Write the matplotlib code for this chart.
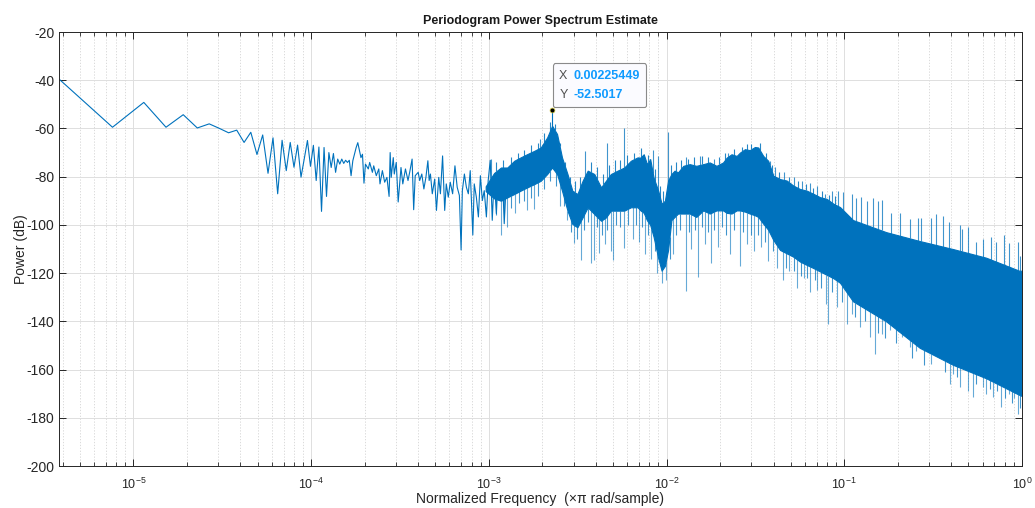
import numpy as np
import matplotlib.pyplot as plt
from matplotlib.ticker import LogLocator, NullLocator, NullFormatter
from matplotlib.offsetbox import TextArea, HPacker, VPacker, AnnotationBbox

plt.rcParams['font.family'] = ['Liberation Sans', 'DejaVu Sans']
plt.rcParams['mathtext.fontset'] = 'custom'
plt.rcParams['mathtext.rm'] = 'Liberation Sans'
plt.rcParams['mathtext.it'] = 'Liberation Sans:italic'
plt.rcParams['axes.unicode_minus'] = False

nfft = 2 ** 19
df = 2 / nfft  # bin spacing in x pi rad/sample

# resolved bins at the low end (bin index, power in dB)
trace_k = [1, 2, 3, 4, 5, 6, 7, 8, 9, 10, 11, 12, 13, 14, 15, 16, 17, 18, 19, 20,
           21, 22, 23, 24, 25, 26, 27, 28, 29, 30, 31, 32, 33, 34, 35, 36, 37, 38, 39, 40,
           41, 42, 43, 44, 45, 47, 48, 50, 51, 52, 53, 55, 56, 58, 59, 61, 63, 64, 66, 68,
           70, 72, 73, 74, 76, 77, 79, 81, 84, 86, 89, 92, 94, 97, 99, 101, 105, 107, 110, 113,
           116, 119, 121, 123, 126, 130, 133, 137, 140, 144, 148, 151, 155, 159, 164, 169, 174, 179, 183, 186,
           191, 196, 201, 206, 213, 217, 223, 229, 235, 241, 247, 254, 260, 267, 274, 281, 289, 296, 304, 312,
           320, 329, 337, 349]
trace_db = [-39.5, -59.5, -49.2, -59.5, -54.3, -59.8, -58.1, -60.0, -61.8, -60.7,
            -65.8, -61.6, -70.8, -62.7, -78.6, -63.9, -87.1, -64.9, -77.5, -65.8,
            -76.1, -66.9, -80.2, -72.5, -65.0, -75.7, -67.0, -81.6, -67.7, -94.4,
            -67.9, -88.2, -70.0, -76.2, -70.4, -78.2, -72.7, -74.8, -72.7, -74.5,
            -73.2, -74.1, -73.2, -79.6, -73.4, -67.9, -65.9, -72.1, -70.7, -82.7,
            -74.8, -76.8, -74.1, -78.2, -75.5, -79.6, -76.8, -83.0, -77.5, -82.3,
            -80.3, -88.2, -70.0, -80.3, -72.1, -78.9, -74.1, -90.5, -76.2, -83.0,
            -76.8, -81.6, -78.2, -72.7, -93.7, -79.6, -78.2, -81.6, -78.9, -85.1,
            -80.3, -73.4, -81.6, -78.9, -87.1, -81.0, -94.0, -80.3, -87.1, -71.4,
            -94.0, -83.0, -88.5, -82.3, -87.1, -75.5, -84.4, -87.8, -110.4, -85.8,
            -78.9, -84.4, -87.1, -77.5, -104.2, -83.0, -88.5, -96.7, -79.6, -89.9,
            -85.8, -96.7, -81.6, -73.2, -98.1, -80.3, -95.3, -78.9, -87.1, -77.5,
            -99.5, -81.6, -78.9, -84.4]

# dense part: upper and lower edge of the solid trace
band_f = [9.6e-4, 1.07e-3, 1.17e-3, 1.27e-3, 1.39e-3, 1.51e-3, 1.65e-3, 1.80e-3, 1.96e-3,
          2.13e-3, 2.27e-3, 2.42e-3, 2.58e-3, 2.77e-3, 2.95e-3, 3.15e-3, 3.37e-3, 3.60e-3, 3.92e-3,
          4.28e-3, 4.56e-3, 4.86e-3, 5.30e-3, 5.78e-3, 6.30e-3, 6.87e-3, 7.13e-3, 7.44e-3, 7.76e-3,
          8.09e-3, 8.45e-3, 8.99e-3, 9.38e-3, 9.79e-3, 0.0102, 0.01065, 0.0111, 0.0116, 0.01243,
          0.0135, 0.0147, 0.0161, 0.0175, 0.0191, 0.0208, 0.0218, 0.0232, 0.0248, 0.0259,
          0.0276, 0.0294, 0.0314, 0.0328, 0.0350, 0.0373, 0.0399, 0.0435, 0.0474, 0.0517,
          0.0563, 0.0615, 0.0670, 0.0730, 0.0796, 0.0868, 0.0946, 0.112, 0.172, 0.266,
          0.408, 0.628, 0.965, 1.0]
band_top = [-84.0, -78.5, -76.2, -76.2, -73.4, -72.0, -70.6, -69.3, -67.9,
            -63.7, -58.9, -62.3, -72.0, -78.9, -85.8, -87.2, -81.7, -77.5, -78.9,
            -84.4, -81.7, -78.9, -77.5, -76.2, -73.4, -72.0, -72.1, -70.7, -74.8,
            -72.7, -80.3, -86.0, -91.2, -90.0, -81.6, -78.9, -77.5, -78.2, -75.5,
            -74.8, -75.5, -74.8, -74.1, -75.5, -74.1, -72.1, -70.7, -71.4, -70.0,
            -68.6, -69.0, -67.7, -67.9, -71.4, -73.4, -79.6, -81.0, -81.6, -83.7,
            -85.1, -85.8, -87.1, -88.5, -89.2, -91.2, -92.6, -98.0, -103.0, -106.7,
            -110.0, -113.6, -119.0, -119.0]
band_bot = [-86.0, -89.0, -90.0, -88.6, -87.2, -85.8, -84.4, -83.1, -81.7,
            -78.9, -76.2, -78.9, -85.8, -94.1, -99.6, -101.0, -96.9, -92.7, -95.5,
            -98.3, -96.9, -94.1, -94.1, -94.1, -92.7, -92.7, -94.0, -95.0, -98.1,
            -100.0, -104.9, -114.0, -119.0, -117.0, -110.4, -98.0, -96.7, -95.3, -95.3,
            -95.3, -96.7, -94.0, -95.3, -94.0, -94.0, -95.0, -95.3, -94.0, -94.0,
            -94.5, -95.3, -96.0, -96.7, -99.5, -102.0, -106.3, -110.4, -111.8, -113.2,
            -115.2, -116.6, -117.9, -119.3, -120.7, -122.1, -124.0, -131.7, -140.0, -151.0,
            -158.0, -163.6, -170.5, -171.0]

# tall single bins sticking out above / below the solid part
up_f = [1.03e-3, 1.94e-3, 3.46e-3, 4.6e-3, 5.75e-3, 8.36e-3, 8.99e-3, 0.0102, 0.0128, 0.0155,
        0.0185, 0.0222, 0.038, 0.041, 0.046, 0.052, 0.058, 0.064, 0.070, 0.078,
        0.085, 0.0925, 0.0986, 0.11, 0.117, 0.125, 0.134, 0.145, 0.155, 0.162,
        0.184, 0.205, 0.233, 0.26, 0.27, 0.309, 0.33, 0.36, 0.39, 0.445,
        0.46, 0.5, 0.55, 0.6, 0.67, 0.714, 0.796, 0.85, 0.946, 0.98]
up_db = [-72.7, -64.5, -69.3, -65.9, -60.0, -69.0, -71.4, -61.3, -72.0, -71.5,
         -72.5, -70.0, -73.4, -76.0, -78.0, -80.0, -82.0, -82.5, -84.0, -87.0,
         -86.0, -85.8, -86.5, -87.0, -89.0, -88.6, -90.0, -89.0, -90.0, -89.7,
         -94.9, -95.0, -97.6, -97.0, -97.0, -97.0, -95.5, -96.5, -99.0, -100.0,
         -101.8, -101.0, -107.0, -106.0, -105.0, -107.0, -104.0, -107.5, -107.0, -113.0]
down_f = [1.17e-3, 1.27e-3, 1.4e-3, 1.65e-3, 1.8e-3, 2.5e-3, 2.77e-3, 3.01e-3, 3.29e-3, 3.74e-3,
          3.9e-3, 4.17e-3, 4.5e-3, 4.84e-3, 5.0e-3, 5.75e-3, 6.5e-3, 7.0e-3, 7.6e-3, 8.2e-3,
          8.85e-3, 9.44e-3, 9.9e-3, 0.0109, 0.0128, 0.0138, 0.0151, 0.0165, 0.0178, 0.0195,
          0.0228, 0.026, 0.0285, 0.031, 0.034, 0.037, 0.042, 0.045, 0.049, 0.054,
          0.059, 0.064, 0.070, 0.079, 0.0813, 0.0905, 0.103, 0.11, 0.122, 0.139,
          0.149, 0.162, 0.18, 0.21, 0.233, 0.254, 0.309, 0.344, 0.391, 0.408,
          0.445, 0.496, 0.53, 0.601, 0.628, 0.684, 0.762, 0.849, 0.9, 0.946]
down_db = [-104.0, -100.8, -95.0, -94.0, -93.3, -92.0, -98.0, -107.7, -114.5, -116.0,
           -114.5, -111.8, -108.0, -111.0, -114.5, -109.6, -106.0, -107.0, -112.0, -114.0,
           -120.0, -124.0, -123.0, -112.0, -127.5, -110.0, -121.6, -108.0, -116.0, -109.0,
           -112.0, -117.0, -108.0, -111.0, -109.0, -115.0, -118.0, -123.0, -119.0, -126.0,
           -122.0, -128.0, -127.0, -133.0, -141.0, -134.0, -141.0, -137.0, -142.4, -146.6,
           -153.5, -145.2, -143.8, -146.6, -150.7, -152.1, -157.6, -154.9, -165.9, -161.8,
           -167.3, -168.7, -171.4, -167.3, -170.0, -171.4, -175.6, -170.0, -172.0, -178.3]

# short ragged bins along the two edges
fringe_up_f = [1.1e-3, 1.2e-3, 1.33e-3, 1.45e-3, 1.58e-3, 1.72e-3, 1.88e-3, 2.05e-3, 2.2e-3, 2.35e-3,
               2.5e-3, 2.68e-3, 2.86e-3, 3.05e-3, 3.25e-3, 3.75e-3, 4.05e-3, 4.4e-3, 4.72e-3, 5.1e-3,
               5.5e-3, 6.0e-3, 6.6e-3, 7.2e-3, 7.9e-3, 8.6e-3, 9.2e-3, 9.6e-3, 0.0106, 0.0113,
               0.012, 0.0132, 0.0142, 0.0158, 0.017, 0.0198, 0.0214, 0.024, 0.0265, 0.0285,
               0.030, 0.0335, 0.0365, 0.039, 0.043, 0.049, 0.055, 0.061, 0.067, 0.075,
               0.082, 0.089]
fringe_up_db = [-74.0, -73.0, -72.0, -70.0, -69.0, -67.0, -66.0, -62.0, -57.5, -58.0,
                -66.0, -74.0, -80.0, -82.0, -80.0, -74.0, -76.0, -79.0, -75.0, -73.0,
                -73.0, -71.0, -70.0, -68.0, -71.0, -77.0, -84.0, -86.0, -75.0, -74.0,
                -73.0, -72.5, -72.0, -71.5, -72.0, -72.0, -70.0, -68.5, -67.5, -66.5,
                -66.5, -66.0, -70.0, -75.0, -78.0, -80.0, -82.0, -83.0, -84.5, -86.0,
                -87.5, -88.0]
fringe_dn_f = [1.1e-3, 1.22e-3, 1.33e-3, 1.48e-3, 1.58e-3, 1.72e-3, 1.9e-3, 2.05e-3, 2.2e-3, 2.38e-3,
               2.65e-3, 2.9e-3, 3.12e-3, 3.45e-3, 3.62e-3, 4.05e-3, 4.35e-3, 4.65e-3, 5.2e-3, 5.5e-3,
               6.1e-3, 6.7e-3, 7.3e-3, 7.9e-3, 8.6e-3, 0.0104, 0.0113, 0.0119, 0.0133, 0.0145,
               0.0158, 0.0172, 0.0185, 0.0205, 0.0215, 0.024, 0.0268, 0.030, 0.0325, 0.036,
               0.0395, 0.047, 0.052, 0.057, 0.062, 0.068, 0.074, 0.085, 0.097, 0.115,
               0.13, 0.155, 0.17, 0.195, 0.24, 0.28, 0.37, 0.43, 0.55, 0.66,
               0.72, 0.8, 0.88, 0.97]
fringe_dn_db = [-96.0, -95.0, -93.0, -91.0, -90.0, -89.0, -88.0, -85.0, -82.0, -84.0,
                -92.0, -103.0, -106.0, -102.0, -99.0, -101.0, -104.0, -102.0, -100.0, -101.0,
                -100.0, -100.0, -101.0, -104.0, -111.0, -114.0, -104.0, -102.0, -103.0, -102.0,
                -101.0, -103.0, -102.0, -101.0, -104.0, -102.0, -103.0, -104.0, -104.0, -107.0,
                -111.0, -118.0, -119.0, -121.0, -122.0, -123.0, -126.0, -128.0, -132.0, -138.0,
                -140.0, -145.0, -147.0, -149.0, -155.0, -158.0, -161.0, -163.0, -166.0, -168.0,
                -169.0, -172.0, -174.0, -176.0]

# data cursor
tip_x = 0.00225449
tip_y = -52.5017

blue = '#0072BD'

fig = plt.figure(figsize=(10.35, 5.08), dpi=100)
ax = fig.add_axes([59 / 1035, 42 / 508, 963 / 1035, 434 / 508])

f_trace = np.array(trace_k) * df
ax.plot(f_trace, trace_db, color=blue, lw=0.8)
ax.fill_between(band_f, band_bot, band_top, color=blue, lw=0.8, edgecolor=blue)

# spikes start at the edge of the solid part
logf = np.log10(band_f)


def edge_spikes(f, db, edge, alpha):
    base = np.interp(np.log10(f), logf, edge)
    ax.vlines(f, base, db, color=blue, lw=0.8, alpha=alpha)


edge_spikes(up_f, up_db, band_top, 0.75)
edge_spikes(down_f, down_db, band_bot, 0.6)
edge_spikes(fringe_up_f, fringe_up_db, band_top, 0.85)
edge_spikes(fringe_dn_f, fringe_dn_db, band_bot, 0.75)
edge_spikes([tip_x], [tip_y], band_top, 1.0)

ax.set_xscale('log')
ax.set_xlim(df, 1)
ax.set_ylim(-200, -20)
ax.set_yticks(np.arange(-200, -19, 20))
ax.yaxis.set_minor_locator(NullLocator())
ax.xaxis.set_minor_locator(LogLocator(base=10, subs=np.arange(2, 10)))
ax.xaxis.set_minor_formatter(NullFormatter())

ax.set_axisbelow(True)
ax.grid(True, which='major', color='#dedede', lw=0.7)
ax.grid(True, which='minor', axis='x', color='#d4d4d4', lw=0.6, ls=(0, (1.5, 2)))

ax.tick_params(which='both', direction='in', top=True, right=True,
               colors='#262626', labelsize=10, labelcolor='#262626')
ax.tick_params(which='major', length=5, width=0.7)
ax.tick_params(which='minor', length=3, width=0.6)
ax.tick_params(axis='x', which='major', pad=8, labelsize=9)
for s in ax.spines.values():
    s.set_color('#262626')
    s.set_linewidth(0.7)

ax.set_title('Periodogram Power Spectrum Estimate', fontsize=9, fontweight='bold',
             color='#1a1a1a', pad=6)
ax.set_xlabel('Normalized Frequency  (\u00d7\u03c0 rad/sample)', fontsize=10,
              color='#262626', labelpad=0)
ax.set_ylabel('Power (dB)', fontsize=10, color='#262626', labelpad=-1)

# data tip box
ax.plot([tip_x], [tip_y], 'o', ms=3.5, mfc='black', mec='#d8d040', mew=0.5, zorder=5)
rows = []
for name, val in (('X', f'{tip_x:.6g}'), ('Y', f'{tip_y:.6g}')):
    rows.append(HPacker(children=[TextArea(name, textprops=dict(color='#505050', size=9)),
                                  TextArea(val, textprops=dict(color='#0f9bff', size=9,
                                                               fontweight='bold'))],
                        align='baseline', pad=0, sep=4))
box = VPacker(children=rows, align='left', pad=0, sep=5)
ab = AnnotationBbox(box, (tip_x, tip_y), xybox=(5.5, 7), xycoords='data',
                    boxcoords='offset points', box_alignment=(0, 0), pad=0.45,
                    bboxprops=dict(boxstyle='round,pad=0.45,rounding_size=0.15',
                                   fc='#fbfbff', ec='#8a8a8a', lw=0.8))
ab.set_zorder(6)
ax.add_artist(ab)

fig.savefig('out.png', dpi=100)
